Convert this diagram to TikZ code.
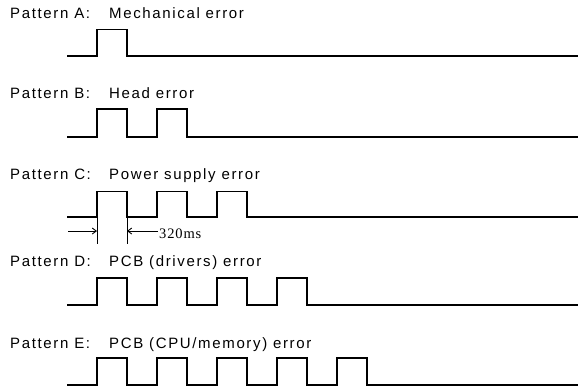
\documentclass[tikz,border=0pt]{standalone}
\usepackage{fontspec}
\setmainfont{Liberation Sans}[LetterSpace=11]
\newfontfamily\msfont{Liberation Serif}[LetterSpace=6]
\usetikzlibrary{arrows.meta}

\begin{document}
\begin{tikzpicture}[
  x=1pt, y=-1pt,
  pat/.style={anchor=base west, inner sep=0pt, font=\fontsize{15}{18}\selectfont},
  wave/.style={line width=1.8pt, line join=miter},
  dim/.style={line width=0.9pt},
  arr/.style={dim, -{Straight Barb[length=4pt, width=6pt]}},
  ms/.style={anchor=base west, inner sep=0pt, font=\msfont\fontsize{14.5}{17}\selectfont}
]
\useasboundingbox (0,0) rectangle (578,391);

% Titles
\node[pat] (tA) at (10,18.5)  {Pattern A:};
\node[pat] (dA) at (109,18.5) {Mechanical error};
\node[pat] (tB) at (10,98.5)  {Pattern B:};
\node[pat] (dB) at (109,98.5) {Head error};
\node[pat] (tC) at (10,179)   {Pattern C:};
\node[pat] (dC) at (109,179)  {Power supply error};
\node[pat] (tD) at (10,266.5) {Pattern D:};
\node[pat] (dD) at (109,266.5){PCB (drivers) error};
\node[pat] (tE) at (10,348)   {Pattern E:};
\node[pat] (dE) at (109,348)  {PCB (CPU/memory) error};

% Pulse trains
\draw[wave] (67,56) \foreach \k in {0}{
  -- ({97+60*\k},56) -- ({97+60*\k},29.5) -- ({127+60*\k},29.5) -- ({127+60*\k},56)} -- (578,56);
\draw[wave] (67,137) \foreach \k in {0,1}{
  -- ({97+60*\k},137) -- ({97+60*\k},109) -- ({127+60*\k},109) -- ({127+60*\k},137)} -- (578,137);
\draw[wave] (67,217) \foreach \k in {0,1,2}{
  -- ({97+60*\k},217) -- ({97+60*\k},191.5) -- ({127+60*\k},191.5) -- ({127+60*\k},217)} -- (578,217);
\draw[wave] (67,305) \foreach \k in {0,...,3}{
  -- ({97+60*\k},305) -- ({97+60*\k},278) -- ({127+60*\k},278) -- ({127+60*\k},305)} -- (578,305);
\draw[wave] (67,385) \foreach \k in {0,...,4}{
  -- ({97+60*\k},385) -- ({97+60*\k},358) -- ({127+60*\k},358) -- ({127+60*\k},385)} -- (578,385);

% 320ms width
\coordinate (tickL) at (97,217);
\coordinate (tickR) at (127,217);
\draw[dim] (tickL) -- ++(0,27);
\draw[dim] (tickR) -- ++(0,27);
\node[ms] (ms) at (159,238) {320ms};
\coordinate (arrL) at (68,231);
\coordinate (arrR) at (158,231);
\draw[arr] (arrL) -- (arrL -| tickL);
\draw[arr] (arrR) -- (arrR -| tickR);

\end{tikzpicture}
\end{document}
